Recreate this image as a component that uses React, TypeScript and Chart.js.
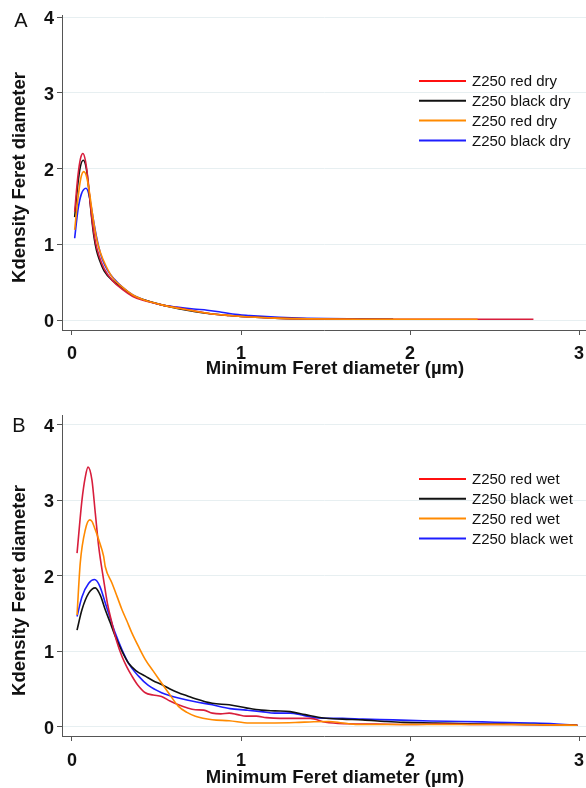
import React, { useEffect, useRef } from 'react';
import { Chart, registerables } from 'chart.js';

Chart.register(...registerables);

const FONT = '"Liberation Sans", Arial, Helvetica, sans-serif';

// ---- axis / text content ----
const xTickValues = [0, 1, 2, 3];
const yTickValues = [0, 1, 2, 3, 4];
const xAxisTitle = 'Minimum Feret diameter (µm)';
const yAxisTitle = 'Kdensity Feret diameter';
const dryLabels = ['Z250 red dry', 'Z250 black dry', 'Z250 red dry', 'Z250 black dry'];
const wetLabels = ['Z250 red wet', 'Z250 black wet', 'Z250 red wet', 'Z250 black wet'];

// ---- panel A (dry) ----
const dryRedX = [0.016, 0.035, 0.05, 0.065, 0.08, 0.095, 0.11, 0.125, 0.14, 0.16, 0.19, 0.24, 0.3, 0.36, 0.42, 0.53, 0.63, 0.73, 0.83, 0.93, 1.05, 1.2, 1.4, 1.7, 2.0, 2.3, 2.73];
const dryRedY = [1.43, 1.9, 2.13, 2.2, 2.1, 1.85, 1.5, 1.22, 1.02, 0.85, 0.68, 0.52, 0.4, 0.31, 0.26, 0.2, 0.16, 0.12, 0.08, 0.06, 0.04, 0.025, 0.015, 0.01, 0.01, 0.01, 0.01];
const dryBlackX = [0.016, 0.035, 0.05, 0.067, 0.085, 0.1, 0.115, 0.13, 0.145, 0.165, 0.19, 0.24, 0.3, 0.36, 0.42, 0.53, 0.63, 0.73, 0.83, 0.93, 1.05, 1.2, 1.4, 1.6, 1.9];
const dryBlackY = [1.36, 1.8, 2.03, 2.11, 2.0, 1.72, 1.38, 1.1, 0.92, 0.78, 0.65, 0.52, 0.42, 0.32, 0.27, 0.2, 0.15, 0.11, 0.08, 0.06, 0.04, 0.025, 0.015, 0.01, 0.01];
const dryOrangeX = [0.016, 0.035, 0.052, 0.07, 0.088, 0.105, 0.12, 0.135, 0.15, 0.17, 0.2, 0.24, 0.3, 0.36, 0.42, 0.53, 0.63, 0.73, 0.83, 0.93, 1.05, 1.2, 1.4, 1.7, 2.0, 2.4];
const dryOrangeY = [1.19, 1.6, 1.87, 1.96, 1.88, 1.66, 1.42, 1.2, 1.03, 0.88, 0.72, 0.56, 0.43, 0.33, 0.27, 0.2, 0.155, 0.115, 0.08, 0.06, 0.04, 0.025, 0.015, 0.01, 0.01, 0.01];
const dryBlueX = [0.016, 0.035, 0.055, 0.083, 0.1, 0.115, 0.13, 0.145, 0.16, 0.18, 0.21, 0.25, 0.3, 0.36, 0.42, 0.53, 0.62, 0.72, 0.8, 0.87, 0.95, 1.05, 1.15, 1.3, 1.5, 1.9];
const dryBlueY = [1.08, 1.45, 1.66, 1.74, 1.66, 1.48, 1.28, 1.1, 0.95, 0.8, 0.66, 0.54, 0.43, 0.33, 0.27, 0.2, 0.17, 0.145, 0.13, 0.11, 0.08, 0.06, 0.045, 0.03, 0.02, 0.01];

// ---- panel B (wet) ----
const wetRedX = [0.03, 0.059, 0.079, 0.095, 0.118, 0.138, 0.158, 0.187, 0.21, 0.237, 0.265, 0.296, 0.325, 0.355, 0.39, 0.434, 0.48, 0.53, 0.58, 0.63, 0.68, 0.73, 0.78, 0.83, 0.88, 0.93, 0.98, 1.03, 1.09, 1.15, 1.23, 1.32, 1.41, 1.5, 1.63, 1.8, 2.0, 2.2, 2.4, 2.6, 2.8, 2.99];
const wetRedY = [2.3, 3.0, 3.31, 3.44, 3.27, 2.83, 2.39, 1.95, 1.63, 1.37, 1.13, 0.93, 0.79, 0.67, 0.55, 0.45, 0.42, 0.4, 0.34, 0.29, 0.25, 0.225, 0.22, 0.18, 0.17, 0.18, 0.16, 0.14, 0.14, 0.12, 0.11, 0.11, 0.11, 0.06, 0.04, 0.035, 0.03, 0.035, 0.03, 0.03, 0.025, 0.02];
const wetBlackX = [0.03, 0.059, 0.099, 0.138, 0.168, 0.197, 0.226, 0.256, 0.296, 0.335, 0.38, 0.434, 0.48, 0.53, 0.58, 0.63, 0.68, 0.73, 0.83, 0.93, 1.03, 1.12, 1.2, 1.29, 1.38, 1.49, 1.6, 1.72, 1.85, 1.96, 2.15, 2.34, 2.55, 2.75, 2.99];
const wetBlackY = [1.28, 1.55, 1.77, 1.84, 1.74, 1.55, 1.38, 1.2, 1.0, 0.84, 0.74, 0.67, 0.61, 0.56, 0.5, 0.45, 0.41, 0.37, 0.31, 0.29, 0.25, 0.22, 0.21, 0.2, 0.16, 0.115, 0.1, 0.09, 0.07, 0.057, 0.05, 0.04, 0.035, 0.03, 0.02];
const wetOrangeX = [0.03, 0.049, 0.079, 0.105, 0.118, 0.138, 0.158, 0.187, 0.197, 0.237, 0.266, 0.296, 0.325, 0.355, 0.394, 0.434, 0.48, 0.53, 0.58, 0.63, 0.68, 0.73, 0.83, 0.93, 1.05, 1.2, 1.32, 1.43, 1.52, 1.6, 1.69, 1.9, 2.2, 2.5, 2.8, 2.99];
const wetOrangeY = [1.48, 2.17, 2.61, 2.74, 2.72, 2.61, 2.48, 2.26, 2.12, 1.9, 1.73, 1.55, 1.4, 1.24, 1.06, 0.89, 0.74, 0.58, 0.42, 0.27, 0.19, 0.14, 0.093, 0.08, 0.05, 0.05, 0.055, 0.066, 0.07, 0.05, 0.03, 0.03, 0.03, 0.03, 0.025, 0.02];
const wetBlueX = [0.03, 0.059, 0.099, 0.134, 0.165, 0.197, 0.226, 0.256, 0.296, 0.335, 0.394, 0.45, 0.53, 0.58, 0.63, 0.73, 0.83, 0.935, 1.03, 1.12, 1.2, 1.29, 1.37, 1.45, 1.6, 1.72, 1.9, 2.12, 2.3, 2.5, 2.71, 2.85, 2.99];
const wetBlueY = [1.46, 1.72, 1.9, 1.95, 1.86, 1.64, 1.44, 1.24, 1.02, 0.84, 0.67, 0.55, 0.45, 0.41, 0.38, 0.33, 0.29, 0.24, 0.22, 0.2, 0.18, 0.18, 0.15, 0.115, 0.11, 0.1, 0.09, 0.075, 0.07, 0.06, 0.05, 0.04, 0.02];

const seriesColors = ['#d81e3c', '#111111', '#ff8a00', '#1e1eff'];
const legendColors = ['#ff1010', '#111111', '#ff8a00', '#1e1eff'];
const drawOrder = [1, 2, 0, 3];

function buildDatasets(labels: string[], xs: number[][], ys: number[][]) {
  return labels.map((label, i) => ({
    label,
    data: xs[i].map((x, j) => ({ x, y: ys[i][j] })),
    borderColor: seriesColors[i],
    backgroundColor: seriesColors[i],
    borderWidth: 1.6,
    pointRadius: 0,
    fill: false,
    cubicInterpolationMode: 'monotone' as const,
    order: drawOrder[i],
  }));
}

const panelText = {
  id: 'panelText',
  afterDraw(chart: any, _args: any, opts: any) {
    const ctx = chart.ctx as CanvasRenderingContext2D;
    ctx.save();
    ctx.fillStyle = '#111';
    ctx.textAlign = 'center';
    ctx.textBaseline = 'middle';
    ctx.font = `20px ${FONT}`;
    ctx.fillText(opts.letter, opts.letterX, opts.letterY);
    ctx.font = `bold 18.5px ${FONT}`;
    ctx.fillText(xAxisTitle, opts.xTitleX, opts.xTitleY);
    ctx.save();
    ctx.translate(opts.yTitleX, opts.yTitleY);
    ctx.rotate(-Math.PI / 2);
    ctx.fillText(yAxisTitle, 0, 0);
    ctx.restore();
    // legend
    ctx.textAlign = 'left';
    ctx.font = `15px ${FONT}`;
    chart.data.datasets.forEach((ds: any, i: number) => {
      const y = opts.legendY + i * opts.legendStep;
      ctx.strokeStyle = legendColors[i];
      ctx.lineWidth = 2;
      ctx.beginPath();
      ctx.moveTo(opts.legendX1, y);
      ctx.lineTo(opts.legendX2, y);
      ctx.stroke();
      ctx.fillStyle = '#111';
      ctx.fillText(ds.label, opts.legendTextX, y + 1);
    });
    ctx.restore();
  },
};

type PanelCfg = {
  labels: string[];
  xs: number[][];
  ys: number[][];
  padTop: number;
  xHeight: number;
  yMin: number;
  yMax: number;
  xTickPad: number;
  text: any;
};

const panelA: PanelCfg = {
  labels: dryLabels,
  xs: [dryRedX, dryBlackX, dryOrangeX, dryBlueX],
  ys: [dryRedY, dryBlackY, dryOrangeY, dryBlueY],
  padTop: 15,
  xHeight: 64,
  yMin: -0.132,
  yMax: 4.03,
  xTickPad: 8,
  text: {
    letter: 'A', letterX: 21, letterY: 21,
    xTitleX: 335, xTitleY: 369,
    yTitleX: 19.5, yTitleY: 177.5,
    legendX1: 419, legendX2: 466, legendTextX: 472, legendY: 81, legendStep: 19.8,
  },
};

const panelB: PanelCfg = {
  labels: wetLabels,
  xs: [wetRedX, wetBlackX, wetOrangeX, wetBlueX],
  ys: [wetRedY, wetBlackY, wetOrangeY, wetBlueY],
  padTop: 21,
  xHeight: 52,
  yMin: -0.123,
  yMax: 4.13,
  xTickPad: 9,
  text: {
    letter: 'B', letterX: 19, letterY: 32,
    xTitleX: 335, xTitleY: 384,
    yTitleX: 19.5, yTitleY: 196.5,
    legendX1: 419, legendX2: 466, legendTextX: 472, legendY: 85, legendStep: 19.8,
  },
};

function makeChart(canvas: HTMLCanvasElement, cfg: PanelCfg) {
  const tickFont = { family: FONT, size: 18, weight: 'bold' as const };
  return new Chart(canvas, {
    type: 'line',
    data: { datasets: buildDatasets(cfg.labels, cfg.xs, cfg.ys) as any },
    plugins: [panelText],
    options: {
      animation: false,
      responsive: false,
      maintainAspectRatio: false,
      layout: { padding: { top: cfg.padTop, left: 0, right: 0, bottom: 0 } },
      plugins: {
        legend: { display: false },
        tooltip: { enabled: false },
        panelText: cfg.text,
      } as any,
      scales: {
        x: {
          type: 'linear',
          min: -0.059,
          max: 3.041,
          afterBuildTicks: (s: any) => {
            s.ticks = xTickValues.map((v) => ({ value: v }));
          },
          afterFit: (s: any) => {
            s.height = cfg.xHeight;
            s.paddingLeft = 0;
            s.paddingRight = 0;
          },
          grid: { drawOnChartArea: false, tickLength: 5, tickColor: '#555', lineWidth: 1 },
          border: { display: true, color: '#555', width: 1 },
          ticks: {
            font: tickFont,
            color: '#111',
            padding: cfg.xTickPad,
            autoSkip: false,
            maxRotation: 0,
            callback: (v: any) => String(v),
          },
        },
        y: {
          type: 'linear',
          min: cfg.yMin,
          max: cfg.yMax,
          afterBuildTicks: (s: any) => {
            s.ticks = yTickValues.map((v) => ({ value: v }));
          },
          afterFit: (s: any) => {
            s.width = 62;
            s.paddingTop = 0;
            s.paddingBottom = 0;
          },
          grid: { color: '#e7eff1', tickLength: 5, tickColor: '#555', lineWidth: 1 },
          border: { display: true, color: '#555', width: 1 },
          ticks: {
            font: tickFont,
            color: '#111',
            padding: 3,
            labelOffset: 2,
            callback: (v: any) => String(v),
          },
        },
      },
    },
  });
}

export default function App() {
  const refA = useRef<HTMLCanvasElement>(null);
  const refB = useRef<HTMLCanvasElement>(null);
  useEffect(() => {
    const a = makeChart(refA.current!, panelA);
    const b = makeChart(refB.current!, panelB);
    return () => {
      a.destroy();
      b.destroy();
    };
  }, []);
  return (
    <div style={{ position: 'fixed', left: 0, top: 0, width: 586, height: 788, background: '#fff' }}>
      <canvas ref={refA} width={586} height={394} style={{ display: 'block', width: 586, height: 394 }} />
      <canvas ref={refB} width={586} height={394} style={{ display: 'block', width: 586, height: 394 }} />
    </div>
  );
}
